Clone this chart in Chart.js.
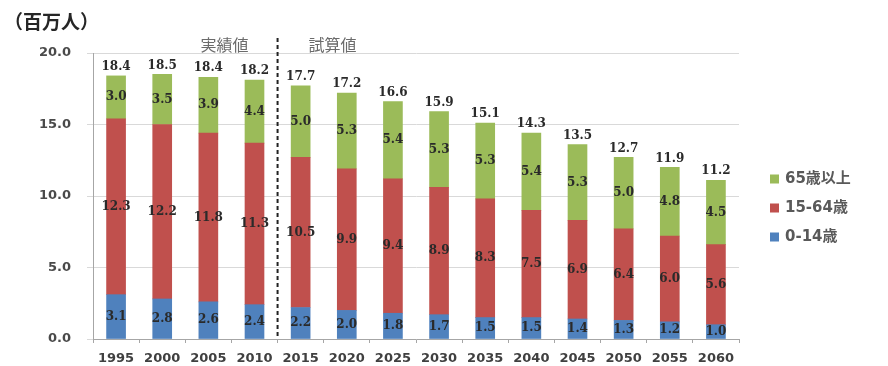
<!DOCTYPE html>
<html lang="ja">
<head>
<meta charset="utf-8">
<title>年齢3区分別人口の推移</title>
<script src="https://cdn.jsdelivr.net/npm/chart.js@4/dist/chart.umd.min.js"></script>
<style>
  html, body { margin: 0; padding: 0; background: #fff; }
  #wrap { width: 888px; height: 366px; }
</style>
</head>
<body>
<div id="wrap"><canvas id="popChart" width="888" height="366"></canvas></div>
<script>
const years = ['1995', '2000', '2005', '2010', '2015', '2020', '2025', '2030', '2035', '2040', '2045', '2050', '2055', '2060'];
const ageLabels = ['0-14歳', '15-64歳', '65歳以上'];
const young   = [3.1, 2.8, 2.6, 2.4, 2.2, 2.0, 1.8, 1.7, 1.5, 1.5, 1.4, 1.3, 1.2, 1.0];
const working = [12.3, 12.2, 11.8, 11.3, 10.5, 9.9, 9.4, 8.9, 8.3, 7.5, 6.9, 6.4, 6.0, 5.6];
const elderly = [3.0, 3.5, 3.9, 4.4, 5.0, 5.3, 5.4, 5.3, 5.3, 5.4, 5.3, 5.0, 4.8, 4.5];
const totals  = [18.4, 18.5, 18.4, 18.2, 17.7, 17.2, 16.6, 15.9, 15.1, 14.3, 13.5, 12.7, 11.9, 11.2];
const yTicks = [0, 5, 10, 15, 20];
const lastActual = '2010'; // 実績値 ends here, 試算値 starts after

const barColors = ['#4F81BD', '#C0504D', '#9BBB59'];

// segment values inside each bar, total on top of each stack
const valueLabels = {
    id: 'valueLabels',
    afterDatasetsDraw(chart) {
        const ctx = chart.ctx;
        ctx.save();
        ctx.font = 'bold 12px "DejaVu Serif"';
        ctx.fillStyle = '#2a2a2a';
        ctx.textAlign = 'center';
        ctx.textBaseline = 'middle';
        chart.data.datasets.forEach((ds, di) => {
            chart.getDatasetMeta(di).data.forEach((bar, i) => {
                ctx.fillText(ds.data[i].toFixed(1), bar.x, (bar.y + bar.base) / 2);
            });
        });
        const topMeta = chart.getDatasetMeta(chart.data.datasets.length - 1);
        topMeta.data.forEach((bar, i) => {
            ctx.fillText(totals[i].toFixed(1), bar.x, bar.y - 9);
        });
        ctx.restore();
    }
};

// unit caption, actual/estimate divider and legend
const extras = {
    id: 'extras',
    afterDraw(chart) {
        const { ctx, chartArea, scales: { x } } = chart;
        const i = years.indexOf(lastActual);
        const xPos = (x.getPixelForValue(i) + x.getPixelForValue(i + 1)) / 2;

        ctx.save();
        ctx.strokeStyle = '#222';
        ctx.lineWidth = 2;
        ctx.setLineDash([4, 3]);
        ctx.beginPath();
        ctx.moveTo(xPos, 38);
        ctx.lineTo(xPos, chartArea.bottom);
        ctx.stroke();
        ctx.setLineDash([]);

        ctx.textBaseline = 'middle';
        ctx.textAlign = 'center';
        ctx.font = '16px "Noto Sans CJK JP"';
        ctx.fillStyle = '#6b6b6b';
        ctx.fillText('実績値', xPos - 53, 45);
        ctx.fillText('試算値', xPos + 55, 45);

        ctx.textAlign = 'left';
        ctx.font = 'bold 19px "Noto Sans CJK JP"';
        ctx.fillStyle = '#262626';
        ctx.fillText('（百万人）', 4, 22);

        // legend, top item first
        ctx.font = 'bold 15px "DejaVu Sans", "Noto Sans CJK JP"';
        const rows = chart.data.datasets.slice().reverse();
        rows.forEach((ds, r) => {
            const y = 179 + r * 29;
            ctx.fillStyle = ds.backgroundColor;
            ctx.fillRect(770, y - 4.5, 9, 9);
            ctx.fillStyle = '#595959';
            ctx.fillText(ds.label, 785, y);
        });
        ctx.restore();
    }
};

const ctx = document.getElementById('popChart').getContext('2d');
new Chart(ctx, {
    type: 'bar',
    data: {
        labels: years,
        datasets: [
            { label: ageLabels[0], data: young, backgroundColor: barColors[0] },
            { label: ageLabels[1], data: working, backgroundColor: barColors[1] },
            { label: ageLabels[2], data: elderly, backgroundColor: barColors[2] }
        ]
    },
    options: {
        responsive: false,
        animation: false,
        devicePixelRatio: 1,
        barThickness: 19,
        layout: { padding: { top: 53, right: 149, bottom: 0, left: 0 } },
        plugins: {
            legend: { display: false },
            tooltip: { enabled: false }
        },
        scales: {
            x: {
                stacked: true,
                afterFit(scale) { scale.height = 27; },
                grid: {
                    offset: true,
                    drawOnChartArea: false,
                    drawTicks: true,
                    tickLength: 4,
                    color: '#A6A6A6'
                },
                border: { color: '#A6A6A6' },
                ticks: {
                    color: '#404040',
                    padding: 8,
                    font: { family: 'DejaVu Sans', size: 13, weight: 'bold' }
                }
            },
            y: {
                stacked: true,
                min: 0,
                max: 20,
                afterFit(scale) { scale.width = 93; },
                afterBuildTicks(scale) { scale.ticks = yTicks.map(v => ({ value: v })); },
                grid: {
                    color: '#D9D9D9',
                    tickLength: 6
                },
                border: { color: '#A6A6A6' },
                ticks: {
                    color: '#4a4a4a',
                    padding: 16,
                    font: { family: 'DejaVu Sans', size: 13, weight: 'bold' },
                    callback: v => v.toFixed(1)
                }
            }
        }
    },
    plugins: [valueLabels, extras]
});
</script>
</body>
</html>
